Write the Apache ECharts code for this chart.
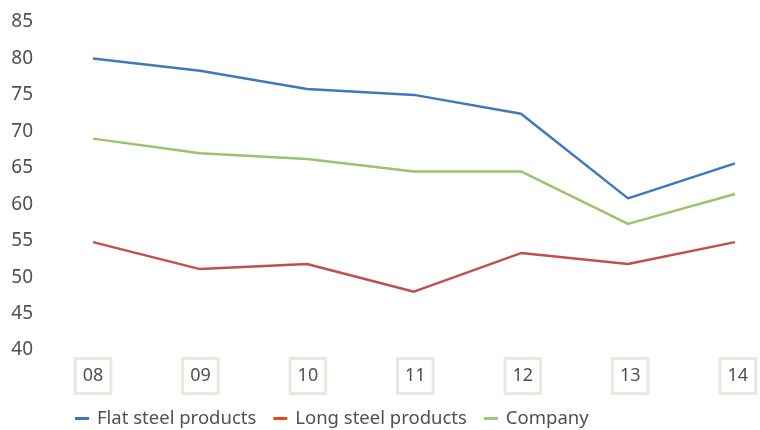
<!DOCTYPE html>
<html>
<head>
<meta charset="utf-8">
<script src="https://cdn.jsdelivr.net/npm/echarts@6/dist/echarts.min.js"></script>
<style>
  html, body { margin: 0; padding: 0; background: #fff; }
  #chart { width: 760px; height: 430px; }
</style>
</head>
<body>
<div id="chart"></div>
<script>
// Years (two-digit) on the category axis
const years = ['08', '09', '10', '11', '12', '13', '14'];

// Series values by year
const flatSteel = [80.0, 78.3, 75.8, 75.0, 72.4, 60.8, 65.6];
const longSteel = [54.8, 51.1, 51.8, 48.0, 53.3, 51.8, 54.8];
const company   = [69.0, 67.0, 66.2, 64.5, 64.5, 57.3, 61.4];

// Value axis range and ticks
const yMin = 40, yMax = 85, yStep = 5;

const seriesNames = ['Flat steel products', 'Long steel products', 'Company'];
const lineColors = ['#4177bd', '#c0504d', '#9bc36b'];
const legendColors = ['#3e75b8', '#e84a1f', '#9dc77c'];

const textColor = '#505050';
const fontFamily = '"Noto Sans", "Open Sans", sans-serif';

const chart = echarts.init(document.getElementById('chart'), null, { renderer: 'canvas' });

const option = {
  backgroundColor: '#ffffff',
  animation: false,
  grid: [
    { left: 93, right: 25, top: 22, bottom: 80 },
    { left: 93, right: 13, top: 22, bottom: 80 }
  ],
  xAxis: [
    {
      gridIndex: 0,
      type: 'category',
      data: years,
      boundaryGap: false,
      axisLine: { show: false },
      axisTick: { show: false },
      axisLabel: { show: false },
      splitLine: { show: false }
    },
    {
      // Boxed year labels
      gridIndex: 1,
      type: 'category',
      data: years,
      boundaryGap: false,
      axisLine: { show: false },
      axisTick: { show: false },
      splitLine: { show: false },
      axisLabel: {
        margin: 10,
        color: textColor,
        fontFamily: fontFamily,
        fontSize: 18,
        lineHeight: 18,
        backgroundColor: '#ffffff',
        borderColor: '#ebe8df',
        borderWidth: 3,
        padding: [7, 6, 7, 6]
      }
    }
  ],
  yAxis: [
    {
      gridIndex: 0,
      type: 'value',
      min: yMin,
      max: yMax,
      interval: yStep,
      axisLine: { show: false },
      axisTick: { show: false },
      splitLine: { show: false },
      axisLabel: {
        margin: 60,
        color: textColor,
        fontFamily: fontFamily,
        fontSize: 19
      }
    },
    {
      gridIndex: 1,
      type: 'value',
      min: yMin,
      max: yMax,
      show: false
    }
  ],
  legend: {
    left: 75,
    top: 409,
    padding: 0,
    icon: 'rect',
    itemWidth: 14,
    itemHeight: 3,
    itemGap: 17,
    textStyle: { color: textColor, fontFamily: fontFamily, fontSize: 18.5, padding: [0, 0, 0, 3] },
    data: seriesNames.map((name, i) => ({ name: name, itemStyle: { color: legendColors[i] } }))
  },
  series: [
    { name: seriesNames[0], data: flatSteel },
    { name: seriesNames[1], data: longSteel },
    { name: seriesNames[2], data: company }
  ].map((s, i) => ({
    name: s.name,
    type: 'line',
    xAxisIndex: 0,
    yAxisIndex: 0,
    data: s.data,
    symbol: 'none',
    lineStyle: { color: lineColors[i], width: 2.5 },
    itemStyle: { color: lineColors[i] }
  }))
};

chart.setOption(option);
</script>
</body>
</html>
